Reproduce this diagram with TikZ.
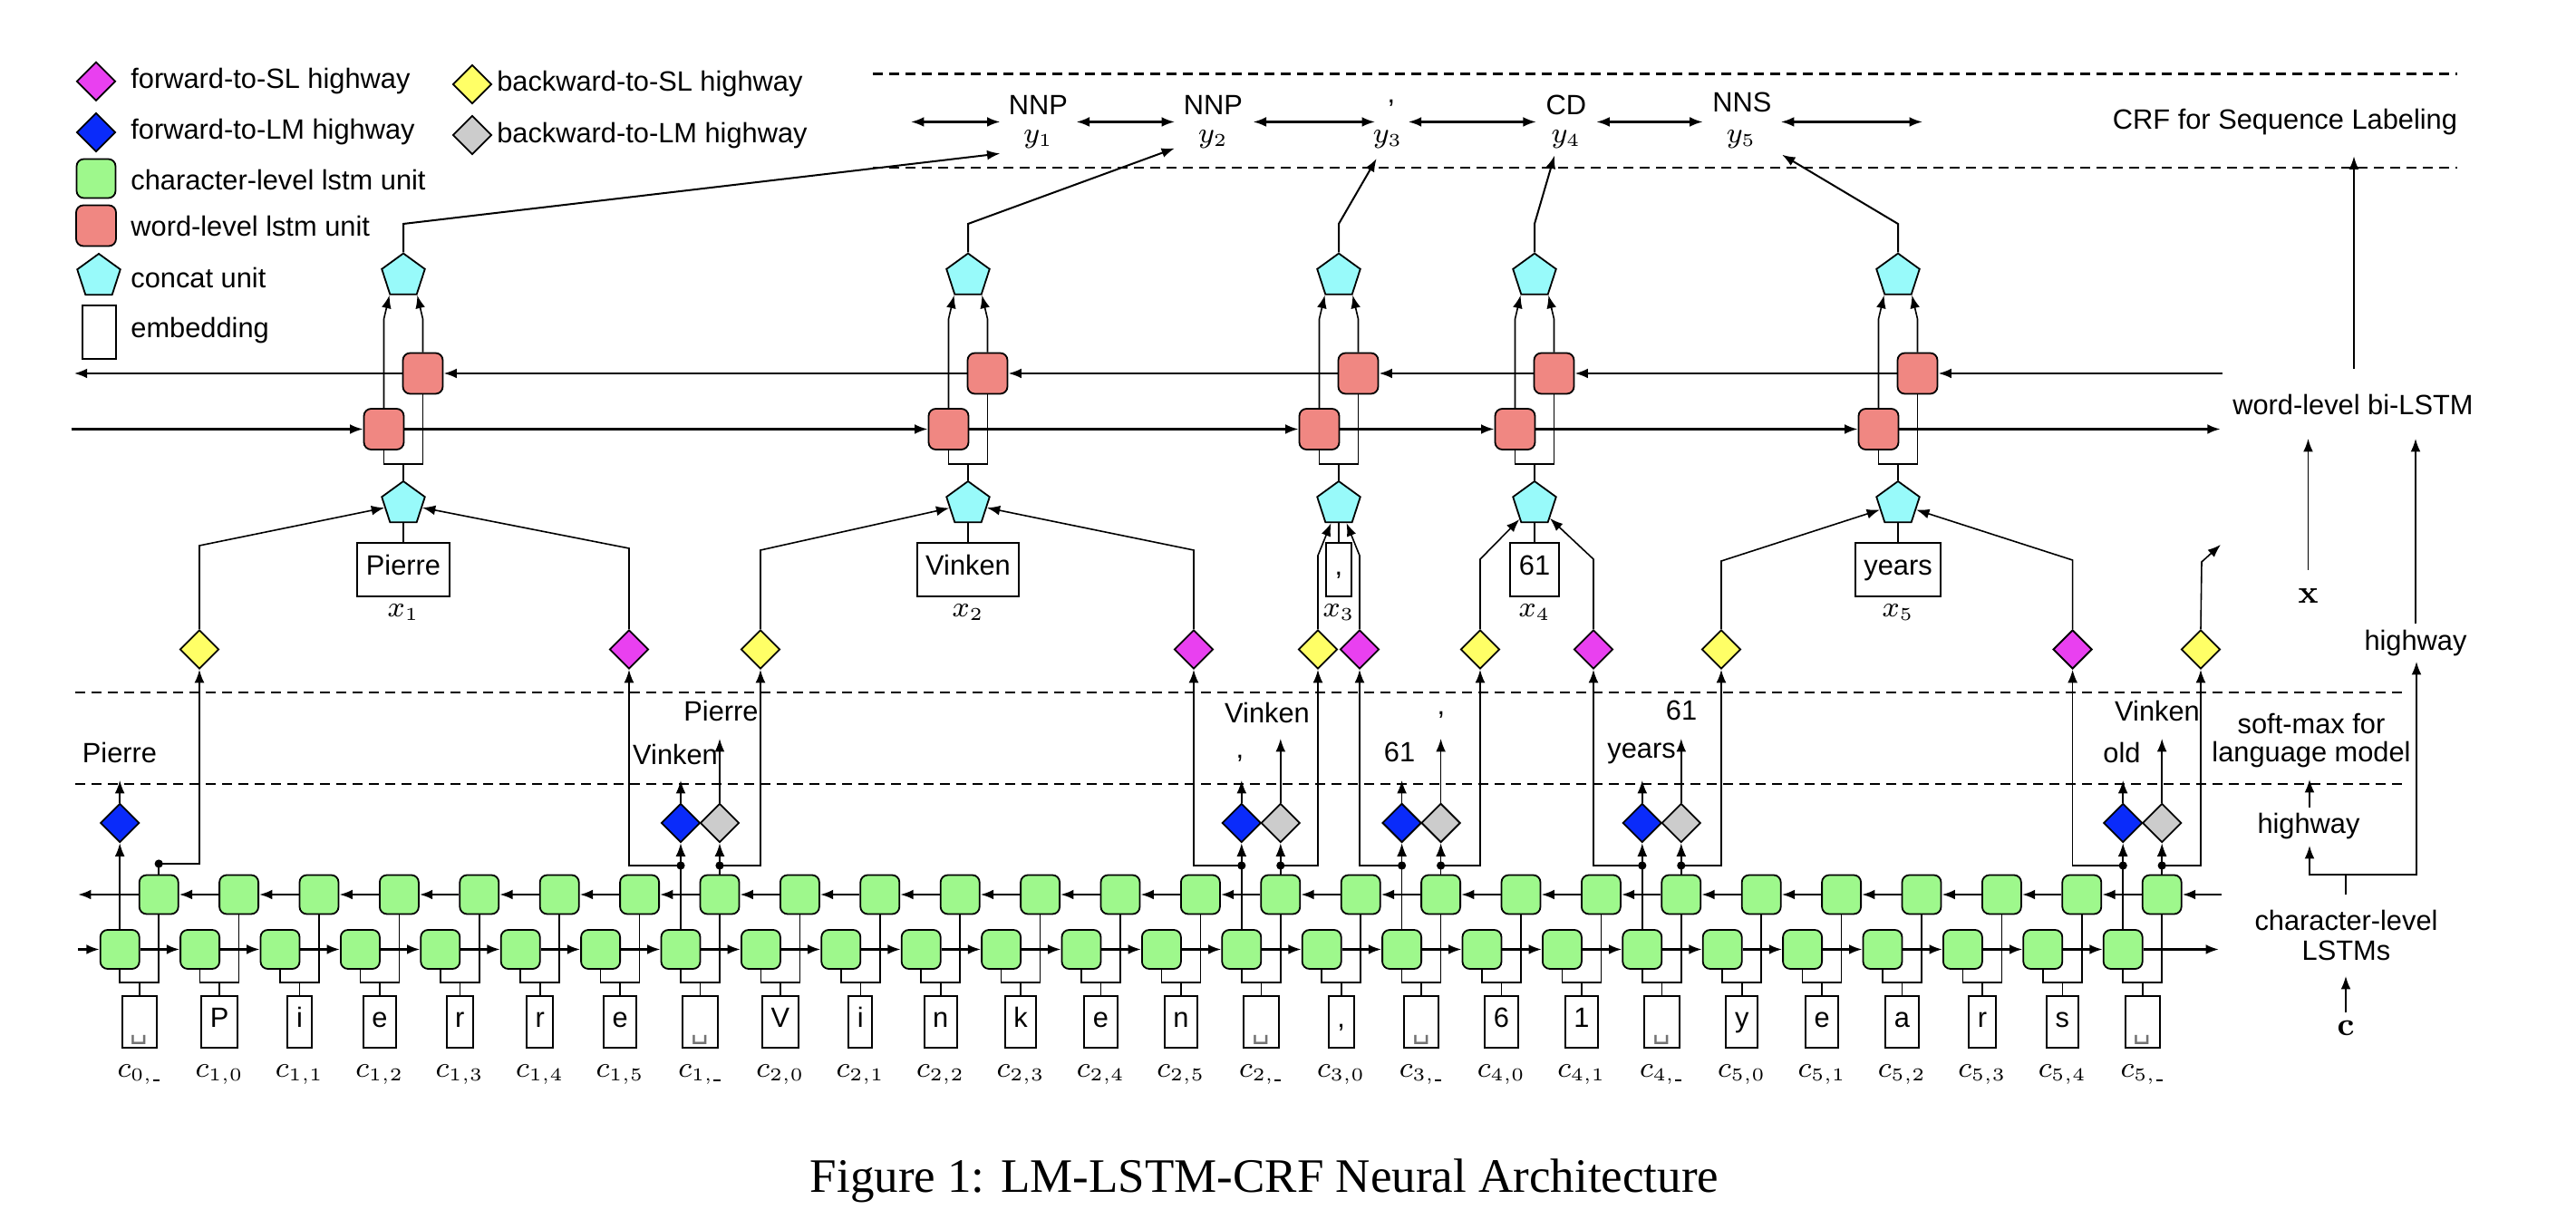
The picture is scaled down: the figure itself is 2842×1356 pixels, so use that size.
\documentclass[tikz,border=0pt]{standalone}
\usepackage[no-math]{fontspec}
\setmainfont{Liberation Sans}
\newfontfamily\capfont{Liberation Serif}
\newfontfamily\vsfont{DejaVu Sans}
\usetikzlibrary{arrows.meta,shapes.geometric}
\definecolor{cmag}{HTML}{E940F0}
\definecolor{cyel}{HTML}{FFFF66}
\definecolor{cblu}{HTML}{0A2BFA}
\definecolor{cgry}{HTML}{CCCCCC}
\definecolor{cgrn}{HTML}{9EF88C}
\definecolor{cred}{HTML}{F08782}
\definecolor{ccyn}{HTML}{98FAFA}
\newcommand\vsp{\makebox[4.8pt]{\raisebox{-3pt}{\vsfont\color{black!55}\char"2423}}}
\newcommand\ldash{\mbox{\kern0.4pt\vrule width1.8pt height0.4pt depth0pt}}
\begin{document}
\begin{tikzpicture}[x=0.25pt,y=-0.25pt,font=\fontsize{7.7}{8.2}\selectfont,
  >={Latex[length=3.6pt,width=2.7pt]},
  conn/.style={line width=0.4pt},
  arr/.style={line width=0.4pt,->},
  hrow/.style={line width=0.6pt,->},
  darr/.style={line width=0.55pt,<->},
  gcell/.style={draw,line width=0.45pt,rounded corners=2pt,fill=cgrn,minimum width=10.75pt,minimum height=10.75pt,inner sep=0pt},
  rcell/.style={gcell,fill=cred,minimum width=11pt,minimum height=11.25pt},
  dia/.style={draw,line width=0.45pt,diamond,inner sep=0pt,minimum width=10.75pt,minimum height=10.75pt},
  pent/.style={draw,line width=0.45pt,regular polygon,regular polygon sides=5,minimum size=12.5pt,inner sep=0pt,fill=ccyn},
  chbox/.style={draw,line width=0.5pt,inner xsep=2.4pt,inner ysep=0pt,minimum height=14.25pt,text height=5.4pt,text depth=2.3pt},
  embox/.style={chbox,minimum height=14.75pt},
  mlab/.style={inner sep=0pt},
  tlab/.style={inner sep=0pt},
  bmath/.style={inner sep=0pt,font=\fontsize{8.6}{10}\selectfont},
  jdot/.style={circle,fill,inner sep=0pt,minimum size=2.3pt},
  dline/.style={line width=0.55pt,dash pattern=on 2.75pt off 1.75pt}]

\useasboundingbox (0,0) rectangle (2842,1356);

% ---------- dashed separators ----------
\draw[dline] (963,81.5) -- (2711,81.5);
\draw[dline] (963,185) -- (2711,185);
\draw[dline] (83,764) -- (2653,764);
\draw[dline] (83,865) -- (2653,865);

% ---------- legend ----------
\node[dia,fill=cmag] (lg1) at (106,89.7) {};
\node[tlab,anchor=west] (lt1) at (143.6,89.5) {forward-to-SL highway};
\node[dia,fill=cblu] (lg2) at (106,146) {};
\node[tlab,anchor=west] (lt2) at (143.6,146) {forward-to-LM highway};
\node[dia,fill=cyel] (lg3) at (521,93) {};
\node[tlab,anchor=west] (lt3) at (547.5,93) {backward-to-SL highway};
\node[dia,fill=cgry] (lg4) at (521,149) {};
\node[tlab,anchor=west] (lt4) at (547.5,150) {backward-to-LM highway};
\node[gcell] (lg5) at (106,197) {};
\node[tlab,anchor=west] (lt5) at (143.6,199) {character-level lstm unit};
\node[rcell] (lg6) at (106,249) {};
\node[tlab,anchor=west] (lt6) at (143.6,250) {word-level lstm unit};
\node[pent] (lg7) at (109,305) {};
\node[tlab,anchor=west] (lt7) at (143.6,307) {concat unit};
\node[draw,line width=0.5pt,minimum width=9.15pt,minimum height=14.75pt,inner sep=0pt] (lg8) at (109.4,367) {};
\node[tlab,anchor=west] (lt8) at (143.6,365) {embedding};

% ---------- character level ----------
\foreach \ci/\chtxt/\chlab in {0/\vsp/{0,\ldash},1/P/{1,0},2/i/{1,1},3/e/{1,2},4/r/{1,3},5/r/{1,4},6/e/{1,5},7/\vsp/{1,\ldash},8/V/{2,0},9/i/{2,1},10/n/{2,2},11/k/{2,3},12/e/{2,4},13/n/{2,5},14/\vsp/{2,\ldash},15/{,}/{3,0},16/\vsp/{3,\ldash},17/6/{4,0},18/1/{4,1},19/\vsp/{4,\ldash},20/y/{5,0},21/e/{5,1},22/a/{5,2},23/r/{5,3},24/s/{5,4},25/\vsp/{5,\ldash}}{
  \pgfmathsetmacro\cx{153.7+88.4*\ci}
  \node[chbox] (ch\ci) at (\cx,1127.5) {\chtxt};
  \node[gcell] (f\ci) at (\cx-21.5,1047.5) {};
  \node[gcell] (b\ci) at (\cx+21.5,987) {};
  \node[mlab,anchor=base] (cl\ci) at (\cx,1189) {$c_{\chlab}$};
  \coordinate (j\ci) at (\cx,1084);
  \draw[conn] (ch\ci.north) -- (j\ci);
  \draw[conn] (j\ci) -| (f\ci.south);
  \draw[conn] (j\ci) -| (b\ci.south);
}
\foreach \ci [evaluate=\ci as \cj using int(\ci+1)] in {0,...,24}{
  \draw[hrow] (f\ci.east) -- (f\cj.west);
  \draw[hrow] (b\cj.west) -- (b\ci.east);
}
\coordinate (fl) at (86,1047.5);
\coordinate (fr) at (2448,1047.5);
\coordinate (bl) at (86,987);
\coordinate (br) at (2451,987);
\draw[hrow] (fl) -- (f0.west);
\draw[hrow] (f25.east) -- (fr);
\draw[hrow] (b0.west) -- (bl);
\draw[hrow] (br) -- (b25.east);

% ---------- LM / SL highways ----------
\node[dia,fill=cblu] (lf0) at (132.2,908) {};
\draw[arr] (f0.north) -- (lf0.south);
\coordinate (tf0) at (132.2,861);
\draw[arr] (lf0.north) -- (tf0);
\node[dia,fill=cyel] (sb0) at (220,716.5) {};
\coordinate (db0) at (175.2,953);
\draw[conn] (b0.north) -- (db0);
\draw[arr] (db0) -| (sb0.south);
\node[jdot] (ndb0) at (db0) {};

\foreach \s/\mx/\yx in {7/694/839,14/1317/1454,16/1500/1633,19/1758/1899,25/2286.6/2428}{
  \pgfmathsetmacro\fx{132.2+88.4*\s}
  \pgfmathsetmacro\bx{175.2+88.4*\s}
  \node[dia,fill=cblu] (lf\s) at (\fx,908) {};
  \node[dia,fill=cgry] (lb\s) at (\bx,908) {};
  \node[dia,fill=cmag] (sf\s) at (\mx,716.5) {};
  \node[dia,fill=cyel] (sb\s) at (\yx,716.5) {};
  \coordinate (df\s) at (\fx,955);
  \coordinate (db\s) at (\bx,955);
  \draw[arr] (f\s.north) -- (lf\s.south);
  \draw[arr] (b\s.north) -- (lb\s.south);
  \draw[arr] (df\s) -| (sf\s.south);
  \draw[arr] (db\s) -| (sb\s.south);
  \node[jdot] (ndf\s) at (df\s) {};
  \node[jdot] (ndb\s) at (db\s) {};
  \coordinate (tf\s) at (\fx,861);
  \coordinate (tb\s) at (\bx,815);
  \draw[arr] (lf\s.north) -- (tf\s);
  \draw[arr] (lb\s.north) -- (tb\s);
}

% LM output labels
\node[tlab] (lm1) at (132,830) {Pierre};
\node[tlab] (lm2) at (745,832) {Vinken};
\node[tlab] (lm3) at (795.5,784) {Pierre};
\node[tlab] (lm4) at (1368,837) {,};
\node[tlab] (lm5) at (1398,786) {Vinken};
\node[tlab] (lm6) at (1544,830) {61};
\node[tlab] (lm7) at (1590,789) {,};
\node[tlab] (lm8) at (1811,831.5) {years};
\node[tlab] (lm9) at (1855,784) {61};
\node[tlab] (lm10) at (2341,830.5) {old};
\node[tlab] (lm11) at (2380,784) {Vinken};

% ---------- word level ----------
\foreach \wk/\wx/\ww in {1/445/Pierre,2/1068/Vinken,3/1477/{,},4/1693/61,5/2094/years}{
  \node[pent] (pt\wk) at (\wx,304.6) {};
  \node[rcell] (wf\wk) at (\wx-21.5,473.5) {};
  \node[rcell] (wb\wk) at (\wx+21.5,412) {};
  \node[pent] (pc\wk) at (\wx,556) {};
  \node[embox] (em\wk) at (\wx,628.5) {\ww};
  \node[mlab,anchor=base] (xl\wk) at (\wx,681) {$x_{\wk}$};
  \coordinate (wj\wk) at (\wx,512);
  \coordinate (wt\wk) at (\wx,247);
  \draw[conn] (em\wk.north) -- (pc\wk.south);
  \draw[conn] (pc\wk.north) -- (wj\wk);
  \draw[conn] (wj\wk) -| (wf\wk.south);
  \draw[conn] (wj\wk) -| (wb\wk.south);
  \draw[arr] (wf\wk.north) -- (\wx-21.5,352) -- (pt\wk.corner 3);
  \draw[arr] (wb\wk.north) -- (\wx+21.5,352) -- (pt\wk.corner 4);
}
\foreach \wk [evaluate=\wk as \wj using int(\wk+1)] in {1,...,4}{
  \draw[hrow] (wf\wk.east) -- (wf\wj.west);
  \draw[hrow] (wb\wj.west) -- (wb\wk.east);
}
\coordinate (wfl) at (78.5,473.5);
\coordinate (wfr) at (2449.7,473.5);
\coordinate (wbl) at (81.7,412);
\coordinate (wbr) at (2451.5,412);
\draw[hrow] (wfl) -- (wf1.west);
\draw[hrow] (wf5.east) -- (wfr);
\draw[hrow] (wb1.west) -- (wbl);
\draw[hrow] (wbr) -- (wb5.east);

% SL highway inputs to concat units
\draw[arr] (sb0.north) -- (220,602) -- (pc1);
\draw[arr] (sf7.north) -- (694,605) -- (pc1);
\draw[arr] (sb7.north) -- (839,607) -- (pc2);
\draw[arr] (sf14.north) -- (1317,607) -- (pc2);
\draw[arr] (sb14.north) -- (1454,613) -- (pc3);
\draw[arr] (sf16.north) -- (1500,613) -- (pc3);
\draw[arr] (sb16.north) -- (1633,617) -- (pc4);
\draw[arr] (sf19.north) -- (1758,617) -- (pc4);
\draw[arr] (sb19.north) -- (1899,619) -- (pc5);
\draw[arr] (sf25.north) -- (2286.6,618) -- (pc5);
\coordinate (nxt) at (2450,601);
\draw[arr] (sb25.north) -- (2429,620) -- (nxt);

% ---------- CRF ----------
\node[tlab] (tg1) at (1145.5,115.5) {NNP};
\node[tlab] (tg2) at (1338.4,115.5) {NNP};
\node[tlab] (tg3) at (1535,113.6) {,};
\node[tlab] (tg4) at (1727.8,115.5) {CD};
\node[tlab] (tg5) at (1922,113) {NNS};
\node[mlab,anchor=base] (yl1) at (1145.5,158) {$y_1$};
\node[mlab,anchor=base] (yl2) at (1338.4,158) {$y_2$};
\node[mlab,anchor=base] (yl3) at (1531,158) {$y_3$};
\node[mlab,anchor=base] (yl4) at (1727.8,158) {$y_4$};
\node[mlab,anchor=base] (yl5) at (1921,158) {$y_5$};
\draw[darr] (1005,134.5) -- (1103.4,134.5);
\draw[darr] (1187.6,134.5) -- (1296,134.5);
\draw[darr] (1382.6,134.5) -- (1517,134.5);
\draw[darr] (1553.8,134.5) -- (1694.8,134.5);
\draw[darr] (1761.4,134.5) -- (1878.6,134.5);
\draw[darr] (1964.9,134.5) -- (2121,134.5);
\coordinate (yt1) at (1103.4,169.4);
\coordinate (yt2) at (1296,163.6);
\coordinate (yt3) at (1518.7,175);
\coordinate (yt4) at (1715,171.6);
\coordinate (yt5) at (1966,170.7);
\foreach \wk in {1,...,5}{
  \draw[arr,line width=0.5pt] (pt\wk.north) -- (wt\wk) -- (yt\wk);
}

% ---------- right-hand annotations ----------
\node[tlab] (crf) at (2521,135) {CRF for Sequence Labeling};
\node[tlab] (wbi) at (2596,446) {word-level bi-LSTM};
\node[bmath] (xb) at (2546.5,658) {$\mathbf{x}$};
\node[tlab] (hw1) at (2665,710) {highway};
\node[tlab,align=center,font=\fontsize{7.7}{7.9}\selectfont] (sm) at (2550,817) {soft-max for\\language model};
\node[tlab] (hw2) at (2547,912) {highway};
\node[tlab,align=center,font=\fontsize{7.7}{8.3}\selectfont] (cll) at (2588.5,1032) {character-level\\LSTMs};
\node[bmath] (cb) at (2588,1135) {$\mathbf{c}$};

\draw[arr] (2597,407) -- (2597,172.5);
\draw[arr] (2546.5,629) -- (2546.5,484);
\draw[arr] (2665,688.5) -- (2665,484);
\draw[arr] (2548,891) -- (2548,860);
\draw[conn] (2588,987) -- (2588,965);
\draw[arr] (2588,965) -| (2548,933);
\draw[arr] (2588,965) -| (2666,730);
\draw[arr] (2588,1117.5) -- (2588,1077);

% ---------- caption ----------
\node[inner sep=0pt,anchor=base,font=\capfont\fontsize{13.25}{15}\selectfont] (cap) at (1395,1316) {Figure 1: LM-LSTM-CRF Neural Architecture};
\end{tikzpicture}
\end{document}
